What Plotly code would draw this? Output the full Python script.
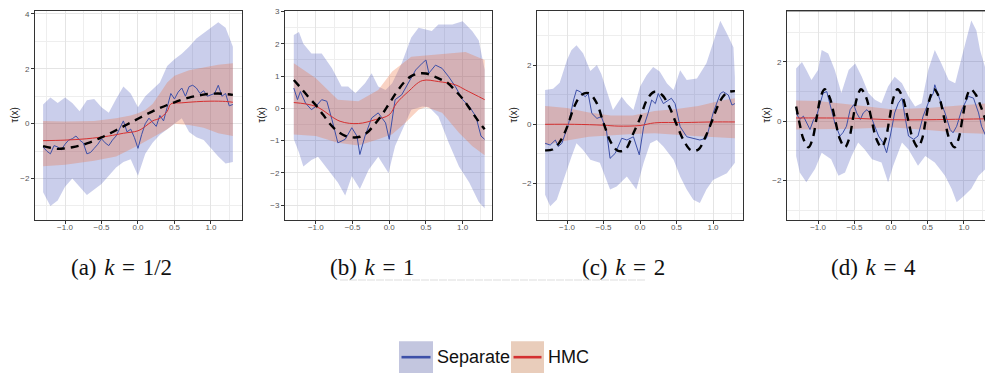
import plotly.graph_objects as go

W, H = 985, 373

X27 = [-1.3, -1.2, -1.1, -1.0, -0.9, -0.8, -0.7, -0.6, -0.5, -0.4, -0.3, -0.2, -0.1, 0.0,
       0.1, 0.2, 0.3, 0.4, 0.5, 0.6, 0.7, 0.8, 0.9, 1.0, 1.1, 1.2, 1.3]
X53 = [-1.3, -1.25, -1.2, -1.15, -1.1, -1.05, -1.0, -0.95, -0.9, -0.85, -0.8, -0.75, -0.7, -0.65,
       -0.6, -0.55, -0.5, -0.45, -0.4, -0.35, -0.3, -0.25, -0.2, -0.15, -0.1, -0.05, 0.0, 0.05,
       0.1, 0.15, 0.2, 0.25, 0.3, 0.35, 0.4, 0.45, 0.5, 0.55, 0.6, 0.65, 0.7, 0.75, 0.8, 0.85,
       0.9, 0.95, 1.0, 1.05, 1.1, 1.15, 1.2, 1.25, 1.3]

# ---------------- panel (a) k = 1/2 ----------------
a_true = [-0.82, -0.88, -0.92, -0.9, -0.86, -0.8, -0.72, -0.62, -0.5, -0.38, -0.24, -0.1, 0.04,
          0.18, 0.32, 0.45, 0.57, 0.68, 0.78, 0.87, 0.95, 1.01, 1.06, 1.09, 1.1, 1.08, 1.05]
a_hmc_x = [-1.3, -1.0, -0.7, -0.4, -0.2, 0.0, 0.1, 0.2, 0.3, 0.4, 0.45, 0.6, 0.8, 1.0, 1.2, 1.3]
a_hmc = [-0.62, -0.6, -0.55, -0.45, -0.35, -0.26, -0.1, 0.1, 0.2, 0.45, 0.72, 0.76, 0.8, 0.82, 0.81, 0.78]
a_hmc_up_x = [-1.3, -1.0, -0.6, -0.3, -0.1, 0.0, 0.1, 0.2, 0.3, 0.4, 0.5, 0.7, 0.9, 1.1, 1.3]
a_hmc_up = [0.1, 0.08, 0.1, 0.2, 0.3, 0.38, 0.5, 0.72, 1.1, 1.5, 1.75, 1.95, 2.05, 2.15, 2.2]
a_hmc_lo_x = [-1.3, -1.0, -0.6, -0.3, 0.0, 0.2, 0.4, 0.5, 0.7, 0.9, 1.1, 1.3]
a_hmc_lo = [-1.55, -1.5, -1.35, -1.2, -0.8, -0.5, -0.2, 0.0, -0.05, -0.15, -0.35, -0.45]
a_sep_up = [0.7, 0.95, 0.75, 0.95, 0.75, 0.45, 0.85, 0.9, 0.6, 0.4, 0.9, 1.35, 1.1, 0.6,
            1.0, 1.25, 1.5, 2.1, 2.35, 2.55, 2.8, 3.1, 3.3, 3.5, 3.7, 3.5, 2.8]
a_sep_lo = [-2.5, -3.0, -2.8, -2.3, -2.0, -2.3, -2.6, -2.4, -2.2, -1.9, -1.6, -1.4, -1.3, -1.9,
            -1.1, -0.7, -0.4, -0.2, 0.0, 0.2, -0.3, -0.5, -0.6, -0.9, -1.2, -1.45, -1.4]
a_sep = [-0.85, -1.0, -1.1, -0.8, -0.85, -0.95, -0.75, -0.6, -0.55, -0.45, -0.6, -0.7, -1.1, -1.05,
         -0.9, -0.75, -0.55, -0.7, -0.8, -0.6, -0.45, -0.2, 0.1, -0.3, -0.2, -0.5, -0.9, -0.4,
         0.0, 0.2, 0.05, -0.1, 0.3, 0.1, 0.6, 1.1, 0.9, 1.15, 1.3, 1.0, 1.35, 1.4, 1.3, 1.1,
         1.2, 1.0, 1.05, 1.1, 1.4, 1.0, 1.1, 0.65, 0.7]

# ---------------- panel (b) k = 1 ----------------
b_true = [0.88, 0.62, 0.35, 0.1, -0.2, -0.5, -0.72, -0.85, -0.9, -0.88, -0.75, -0.5, -0.2, 0.15,
          0.5, 0.8, 1.0, 1.08, 1.08, 1.0, 0.9, 0.78, 0.55, 0.3, -0.02, -0.35, -0.65]
b_hmc_x = [-1.3, -1.0, -0.67, -0.42, -0.19, 0.0, 0.1, 0.26, 0.45, 0.67, 0.9, 1.04, 1.3]
b_hmc = [0.18, 0.06, -0.4, -0.47, -0.35, -0.2, 0.16, 0.52, 0.86, 0.83, 0.73, 0.57, 0.27]
b_hmc_up_x = [-1.3, -1.0, -0.7, -0.42, -0.15, 0.04, 0.3, 0.54, 0.76, 1.04, 1.3]
b_hmc_up = [1.4, 0.93, 0.27, 0.22, 0.57, 1.14, 1.6, 1.65, 1.7, 1.75, 1.5]
b_hmc_lo_x = [-1.3, -1.0, -0.7, -0.42, -0.15, 0.04, 0.22, 0.4, 0.5, 0.72, 0.95, 1.13, 1.3]
b_hmc_lo = [-0.81, -0.86, -1.07, -1.15, -0.96, -0.8, -0.45, -0.04, 0.04, -0.14, -0.76, -1.17, -1.45]
b_sep_up_x = [-1.3, -1.23, -1.17, -1.06, -0.92, -0.78, -0.65, -0.56, -0.46, -0.33, -0.24, -0.15,
              -0.05, 0.04, 0.17, 0.3, 0.4, 0.58, 0.67, 0.86, 1.0, 1.13, 1.22, 1.29, 1.3]
b_sep_up = [2.27, 2.37, 2.0, 1.7, 1.7, 1.24, 0.68, 0.68, 0.47, 0.78, 1.09, 0.68, 0.57, 0.78, 1.4,
            2.2, 2.5, 2.4, 2.6, 2.6, 2.7, 2.4, 2.1, 1.3, 1.2]
b_sep_lo_x = [-1.3, -1.23, -1.17, -1.06, -0.97, -0.83, -0.7, -0.6, -0.51, -0.4, -0.28, -0.15,
              -0.01, 0.08, 0.22, 0.3, 0.45, 0.54, 0.67, 0.81, 0.95, 1.09, 1.22, 1.3]
b_sep_lo = [-0.96, -1.37, -1.8, -1.6, -1.5, -1.9, -2.3, -2.7, -2.1, -2.5, -1.9, -1.5, -2.0, -1.17,
            -0.45, -0.04, 0.06, 0.04, -0.25, -1.07, -1.8, -2.3, -2.9, -3.1]
b_sep_x = [-1.3, -1.25, -1.21, -1.14, -1.06, -1.0, -0.92, -0.85, -0.78, -0.7, -0.6, -0.51, -0.44,
           -0.4, -0.33, -0.24, -0.15, -0.05, 0.0, 0.08, 0.17, 0.26, 0.36, 0.45, 0.5, 0.54, 0.63,
           0.72, 0.81, 0.9, 1.0, 1.09, 1.18, 1.25, 1.3]
b_sep = [0.63, 0.27, 0.52, 0.16, -0.04, 0.06, 0.27, 0.22, -0.35, -1.07, -0.96, -0.6, -0.86, -1.43,
         -0.86, -0.3, -0.14, -0.45, -0.96, 0.27, 0.42, 0.78, 1.19, 1.4, 1.5, 1.09, 1.34, 1.24,
         0.98, 0.68, 0.27, 0.06, -0.25, -0.86, -0.96]

# ---------------- panel (c) k = 2 ----------------
c_true = [-0.88, -0.85, -0.6, -0.1, 0.6, 1.0, 1.05, 0.75, 0.05, -0.6, -0.9, -0.85, -0.35, 0.2,
          0.85, 1.1, 1.0, 0.6, 0.0, -0.55, -0.88, -0.85, -0.4, 0.2, 0.8, 1.08, 1.12]
c_hmc_x = [-1.3, -0.9, -0.5, -0.3, 0.0, 0.2, 0.6, 1.0, 1.3]
c_hmc = [0.0, 0.0, -0.03, -0.06, -0.04, 0.05, 0.06, 0.08, 0.08]
c_hmc_band_x = [-1.3, -1.0, -0.7, -0.4, -0.1, 0.2, 0.5, 0.8, 1.1, 1.3]
c_hmc_up = [0.62, 0.55, 0.4, 0.3, 0.3, 0.45, 0.52, 0.62, 0.8, 0.88]
c_hmc_lo = [-0.7, -0.55, -0.42, -0.38, -0.33, -0.3, -0.35, -0.4, -0.45, -0.47]
c_sep_up_x = [-1.3, -1.19, -1.1, -1.0, -0.94, -0.87, -0.78, -0.68, -0.59, -0.53, -0.46, -0.37,
              -0.25, -0.18, -0.09, 0.0, 0.09, 0.18, 0.27, 0.37, 0.46, 0.55, 0.64, 0.78, 0.91,
              1.0, 1.1, 1.19, 1.28, 1.3]
c_sep_up = [1.16, 1.2, 1.4, 2.17, 2.5, 2.67, 2.4, 1.8, 2.0, 1.7, 1.16, 0.48, 0.93, 0.7, 0.48,
            1.27, 1.66, 1.94, 1.78, 1.38, 1.16, 1.83, 1.5, 1.55, 2.06, 2.73, 3.5, 3.07, 2.6, 1.6]
c_sep_lo_x = [-1.3, -1.23, -1.14, -1.05, -0.94, -0.87, -0.78, -0.68, -0.55, -0.41, -0.32, -0.18,
              -0.05, 0.05, 0.14, 0.23, 0.32, 0.46, 0.55, 0.64, 0.73, 0.82, 0.91, 1.0, 1.1, 1.19, 1.3]
c_sep_lo = [-2.38, -2.77, -2.55, -1.9, -1.1, -0.64, -0.87, -1.2, -1.3, -2.2, -2.1, -1.76, -2.2,
            -1.3, -0.64, -0.53, -0.75, -1.2, -1.76, -2.2, -2.55, -2.66, -2.2, -1.88, -1.76,
            -1.65, -1.3]
c_sep_x = [-1.3, -1.23, -1.16, -1.12, -1.07, -0.98, -0.91, -0.87, -0.82, -0.75, -0.71, -0.66,
           -0.59, -0.53, -0.46, -0.41, -0.34, -0.25, -0.18, -0.09, -0.01, 0.05, 0.11, 0.16, 0.21,
           0.25, 0.32, 0.39, 0.43, 0.48, 0.55, 0.64, 0.73, 0.82, 0.91, 0.96, 1.0, 1.1, 1.14,
           1.21, 1.26, 1.3]
c_sep = [-0.64, -0.7, -0.53, -0.75, -0.64, 0.0, 0.82, 1.16, 1.1, 0.93, 1.04, 0.37, 0.2, 0.26,
         -0.2, -1.15, -0.98, -0.47, -0.53, -0.42, -1.03, -0.08, 0.37, 0.82, 0.7, 1.04, 0.7, 0.82,
         0.88, 0.7, -0.08, -0.42, -0.47, -0.53, -0.47, 0.03, 0.37, 1.04, 1.1, 0.99, 0.65, 0.7]

# ---------------- panel (d) k = 4 ----------------
d_true_x = [-1.3, -1.25, -1.2, -1.13, -1.075, -1.02, -0.965, -0.91, -0.84, -0.77, -0.70, -0.63,
            -0.575, -0.52, -0.465, -0.41, -0.34, -0.27, -0.20, -0.13, -0.075, -0.02, 0.035,
            0.09, 0.16, 0.23, 0.30, 0.37, 0.425, 0.48, 0.535, 0.59, 0.66, 0.73, 0.80, 0.87,
            0.925, 0.98, 1.035, 1.09, 1.16, 1.23, 1.30]
d_true = [0.5, -0.1, -0.6, -0.88, -0.6, 0.1, 0.8, 1.08, 0.8, 0.1, -0.6, -0.88, -0.6, 0.1, 0.8,
          1.08, 0.8, 0.1, -0.6, -0.88, -0.6, 0.1, 0.8, 1.08, 0.8, 0.1, -0.6, -0.88, -0.6, 0.1,
          0.8, 1.08, 0.8, 0.1, -0.6, -0.88, -0.6, 0.1, 0.8, 1.08, 0.9, 0.5, 0.0]
d_hmc_x = [-1.3, -1.0, -0.5, 0.0, 0.5, 1.0, 1.3]
d_hmc = [0.11, 0.11, 0.1, 0.05, 0.05, 0.07, 0.08]
d_hmc_up = [0.7, 0.68, 0.55, 0.4, 0.45, 0.55, 0.6]
d_hmc_lo = [-0.28, -0.28, -0.25, -0.2, -0.3, -0.4, -0.42]
d_sep_up_x = [-1.3, -1.22, -1.16, -1.09, -1.0, -0.95, -0.86, -0.77, -0.68, -0.58, -0.49, -0.4,
              -0.31, -0.22, -0.13, -0.04, 0.05, 0.15, 0.24, 0.33, 0.42, 0.51, 0.6, 0.69, 0.79,
              0.88, 0.97, 1.06, 1.1, 1.17, 1.22, 1.3]
d_sep_up = [1.78, 2.0, 1.73, 1.39, 1.73, 2.4, 2.28, 1.73, 0.95, 1.73, 1.95, 1.5, 0.95, 0.72,
            0.61, 1.17, 1.5, 1.28, 0.84, 0.5, 0.61, 1.73, 2.4, 1.95, 1.39, 1.28, 2.17, 3.06,
            3.4, 3.06, 2.4, 1.73]
d_sep_lo_x = [-1.3, -1.25, -1.16, -1.04, -0.95, -0.82, -0.72, -0.63, -0.54, -0.45, -0.36, -0.26,
              -0.13, -0.04, 0.03, 0.15, 0.24, 0.37, 0.47, 0.6, 0.74, 0.83, 0.9, 1.01, 1.1, 1.2, 1.3]
d_sep_lo = [-1.17, -1.73, -2.06, -1.6, -1.06, -1.28, -1.84, -1.73, -1.17, -0.72, -0.95, -1.28,
            -1.39, -2.06, -1.5, -0.72, -0.95, -1.5, -1.17, -1.39, -1.84, -2.28, -2.73, -2.5,
            -2.28, -1.84, -1.6]
d_sep_x = [-1.3, -1.25, -1.2, -1.15, -1.11, -1.06, -1.02, -0.97, -0.93, -0.88, -0.84, -0.77,
           -0.7, -0.66, -0.61, -0.56, -0.51, -0.47, -0.42, -0.38, -0.33, -0.29, -0.24, -0.17,
           -0.11, -0.06, -0.01, 0.05, 0.1, 0.15, 0.19, 0.24, 0.31, 0.37, 0.44, 0.51, 0.58, 0.6,
           0.67, 0.74, 0.81, 0.85, 0.9, 0.97, 1.06, 1.13, 1.2, 1.24, 1.3]
d_sep = [0.28, 0.06, 0.17, -0.06, -0.28, 0.06, 0.17, 0.61, 0.95, 1.0, 0.61, -0.06, -0.5, -0.39,
         -0.17, 0.39, 0.56, 0.28, 0.06, 0.28, 0.39, 0.28, -0.06, -0.5, -0.72, -1.06, -0.5, 0.28,
         0.61, 0.78, 0.17, -0.5, -0.61, -0.5, 0.17, 0.61, 0.95, 1.23, 0.72, 0.28, -0.28, -0.39,
         -0.17, 0.39, 0.84, 0.78, 0.28, -0.17, -0.5]

captions = ["(a)\u2004<i>k</i>\u2004=\u20041/2", "(b)\u2004<i>k</i>\u2004=\u20041",
            "(c)\u2004<i>k</i>\u2004=\u20042", "(d)\u2004<i>k</i>\u2004=\u20044"]
legend_labels = ["Separate", "HMC"]

# ---------------- styles ----------------
BLUE_FILL = "rgba(60,75,180,0.27)"
RED_FILL = "rgba(235,110,60,0.30)"
BLUE_LINE = "#3d50a8"
RED_LINE = "#d43030"
AXC = "#333333"
GRID = "#e4e4e4"
MINOR = "#eeeeee"

panels = [
    dict(true_x=X27, true=a_true, hx=a_hmc_x, h=a_hmc, hux=a_hmc_up_x, hu=a_hmc_up,
         hlx=a_hmc_lo_x, hl=a_hmc_lo, sux=X27, su=a_sep_up, slx=X27, sl=a_sep_lo,
         sx=X53, s=a_sep, px=(35, 242), xr=[-1.411, 1.425], yr=[-3.5, 4.11], dt=2, mdt=1,
         ytitle_px=15, cap_px=121, ymirror=True),
    dict(true_x=X27, true=b_true, hx=b_hmc_x, h=b_hmc, hux=b_hmc_up_x, hu=b_hmc_up,
         hlx=b_hmc_lo_x, hl=b_hmc_lo, sux=b_sep_up_x, su=b_sep_up, slx=b_sep_lo_x, sl=b_sep_lo,
         sx=b_sep_x, s=b_sep, px=(285, 492), xr=[-1.42, 1.40], yr=[-3.45, 3.02], dt=1, mdt=0.5,
         ytitle_px=262, cap_px=372, ymirror=True),
    dict(true_x=X27, true=c_true, hx=c_hmc_x, h=c_hmc, hux=c_hmc_band_x, hu=c_hmc_up,
         hlx=c_hmc_band_x, hl=c_hmc_lo, sux=c_sep_up_x, su=c_sep_up, slx=c_sep_lo_x, sl=c_sep_lo,
         sx=c_sep_x, s=c_sep, px=(537, 743), xr=[-1.411, 1.411], yr=[-3.22, 3.83], dt=2, mdt=1,
         ytitle_px=514, cap_px=623, ymirror=True),
    dict(true_x=d_true_x, true=d_true, hx=d_hmc_x, h=d_hmc, hux=d_hmc_x, hu=d_hmc_up,
         hlx=d_hmc_x, hl=d_hmc_lo, sux=d_sep_up_x, su=d_sep_up, slx=d_sep_lo_x, sl=d_sep_lo,
         sx=d_sep_x, s=d_sep, px=(787, 985), xr=[-1.425, 1.288], yr=[-3.32, 3.72], dt=2, mdt=1,
         ytitle_px=767, cap_px=873, ymirror=False),
]

TOP, BOT = 7, 218
ydom = [1 - BOT / H, 1 - TOP / H]

fig = go.Figure()
layout = dict(width=W, height=H, margin=dict(l=0, r=0, t=0, b=0), autosize=False,
              paper_bgcolor="white", plot_bgcolor="white", showlegend=False,
              font=dict(family="Liberation Sans, Arial, sans-serif"))
annotations = []
shapes = []

for i, p in enumerate(panels, start=1):
    xa = "x" if i == 1 else f"x{i}"
    ya = "y" if i == 1 else f"y{i}"
    common = dict(xaxis=xa, yaxis=ya, hoverinfo="skip", showlegend=False)
    fig.add_trace(go.Scatter(x=p["sux"] + p["slx"][::-1], y=p["su"] + p["sl"][::-1],
                             fill="toself", fillcolor=BLUE_FILL, mode="lines",
                             line=dict(width=0), **common))
    fig.add_trace(go.Scatter(x=p["hux"] + p["hlx"][::-1], y=p["hu"] + p["hl"][::-1],
                             fill="toself", fillcolor=RED_FILL, mode="lines",
                             line=dict(width=0), **common))
    fig.add_trace(go.Scatter(x=p["sx"], y=p["s"], mode="lines",
                             line=dict(color=BLUE_LINE, width=1), **common))
    fig.add_trace(go.Scatter(x=p["hx"], y=p["h"], mode="lines",
                             line=dict(color=RED_LINE, width=1, shape="spline"), **common))
    fig.add_trace(go.Scatter(x=p["true_x"], y=p["true"], mode="lines",
                             line=dict(color="black", width=2.4, dash="8px,6px", shape="spline"),
                             **common))

    l, r = p["px"]
    layout["xaxis" if i == 1 else f"xaxis{i}"] = dict(
        domain=[l / W, r / W], range=p["xr"], anchor=ya,
        tickvals=[-1.0, -0.5, 0.0, 0.5, 1.0], tickformat=".1f",
        showline=True, linecolor=AXC, linewidth=1, mirror=True,
        ticks="outside", ticklen=3, tickcolor=AXC, tickwidth=1,
        tickfont=dict(size=8, color="#555555"), ticklabelstandoff=-3,
        showgrid=True, gridcolor=GRID, gridwidth=1, zeroline=False,
        minor=dict(dtick=0.25, tick0=0, showgrid=True, gridcolor=MINOR, ticks=""),
        fixedrange=True)
    layout["yaxis" if i == 1 else f"yaxis{i}"] = dict(
        domain=ydom, range=p["yr"], anchor=xa, dtick=p["dt"], tick0=0,
        showline=True, linecolor=AXC, linewidth=1, mirror=p["ymirror"],
        ticks="outside", ticklen=3, tickcolor=AXC, tickwidth=1,
        tickfont=dict(size=8, color="#555555"),
        showgrid=True, gridcolor=GRID, gridwidth=1, zeroline=False,
        minor=dict(dtick=p["mdt"], tick0=0, showgrid=True, gridcolor=MINOR, ticks=""),
        fixedrange=True)
    if not p["ymirror"]:
        shapes.append(dict(type="line", xref="paper", yref="paper",
                           x0=l / W, x1=1.0, y0=ydom[1], y1=ydom[1],
                           line=dict(color=AXC, width=1)))
    annotations.append(dict(text="τ(x)", textangle=-90, xref="paper", yref="paper",
                            x=p["ytitle_px"] / W, y=1 - 112 / H, showarrow=False,
                            xanchor="center", yanchor="middle",
                            font=dict(size=10, color="#222222")))
    annotations.append(dict(text=captions[i - 1], xref="paper", yref="paper",
                            x=p["cap_px"] / W, y=1 - 266 / H, showarrow=False,
                            xanchor="center", yanchor="middle",
                            font=dict(size=23, color="#111111",
                                      family="Liberation Serif, Times New Roman, serif")))

# faint separator line under captions
shapes.append(dict(type="line", xref="paper", yref="paper", x0=340 / W, x1=645 / W,
                   y0=1 - 279 / H, y1=1 - 279 / H,
                   line=dict(color="#dddddd", width=1, dash="8px,1px")))

# legend (manual, ggplot-like keys)
keys = [(399, 433, "#c3c6df", BLUE_LINE, legend_labels[0]),
        (511, 544, "#e9cdbb", RED_LINE, legend_labels[1])]
for x0, x1, fc, lc, lab in keys:
    shapes.append(dict(type="rect", xref="paper", yref="paper", x0=x0 / W, x1=x1 / W,
                       y0=0, y1=1 - 341 / H, fillcolor=fc, line=dict(width=0), layer="above"))
    shapes.append(dict(type="line", xref="paper", yref="paper", x0=(x0 + 2.5) / W,
                       x1=(x1 - 2.5) / W, y0=1 - 357 / H, y1=1 - 357 / H,
                       line=dict(color=lc, width=2.6), layer="above"))
    annotations.append(dict(text=lab, xref="paper", yref="paper", x=(x1 + 2) / W,
                            y=1 - 357 / H, showarrow=False, xanchor="left", yanchor="middle",
                            font=dict(size=18, color="#111111",
                                      family="Liberation Sans, Arial, sans-serif")))

layout["annotations"] = annotations
layout["shapes"] = shapes
fig.update_layout(**layout)
fig.write_html("out.html")
